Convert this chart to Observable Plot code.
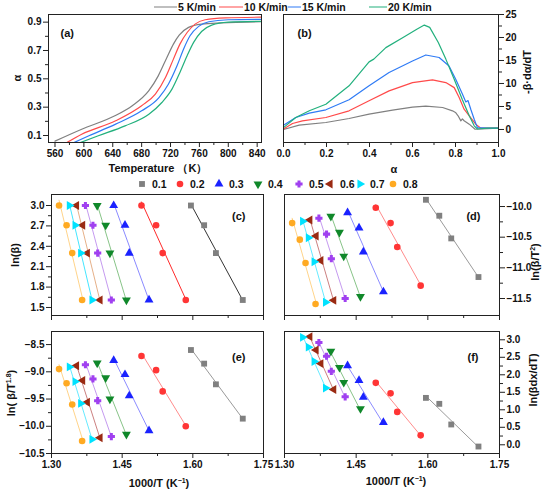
<!DOCTYPE html>
<html><head><meta charset="utf-8">
<script src="https://cdn.jsdelivr.net/npm/d3@7"></script>
<script src="https://cdn.jsdelivr.net/npm/@observablehq/plot@0.6"></script>
<style>
body{margin:0;background:#fff;}
#chart{position:relative;width:550px;height:492px;overflow:hidden;background:#fff;font-family:"Liberation Sans",Arial,Helvetica,sans-serif;font-weight:bold;color:#111;}
.lbl{position:absolute;white-space:nowrap;transform:translate(-50%,-50%);font-size:11px;line-height:1;}
.rot{transform:translate(-50%,-50%) rotate(-90deg);}
.lbl sup{font-size:7px;vertical-align:4px;line-height:0;}
.leg{position:absolute;white-space:nowrap;font-size:10.5px;line-height:1;transform:translateY(-50%);}
.legline{position:absolute;height:0;border-top:1.6px solid;transform:translateY(-50%);}
svg.pan{position:absolute;overflow:visible;max-width:none;}
</style></head><body><div id="chart"></div>
<script>
const FONT = "'Liberation Sans', Arial, Helvetica, sans-serif";

// ---------- panels (a) and (b): heating rates ----------
const rateLabels = ["5 K/min", "10 K/min", "15 K/min", "20 K/min"];
const rateColors = ["#808080", "#ff4a4a", "#2f7bf5", "#22b07d"];

// (a) conversion alpha vs temperature (K)
const tempA5  = [560, 597, 643, 667, 690, 703, 715, 724, 732, 745, 763, 791, 846];
const alphaA5 = [0.060, 0.144, 0.239, 0.310, 0.416, 0.521, 0.651, 0.745, 0.808, 0.863, 0.886, 0.895, 0.903];
const tempA10  = [577, 597, 644, 680, 699, 713, 724, 733, 743, 754, 768, 796, 846];
const alphaA10 = [0.052, 0.109, 0.204, 0.310, 0.392, 0.509, 0.639, 0.745, 0.827, 0.886, 0.917, 0.930, 0.935];
const tempA15  = [587, 607, 644, 680, 704, 717, 729, 738, 747, 759, 773, 800, 846];
const alphaA15 = [0.052, 0.098, 0.180, 0.274, 0.368, 0.462, 0.592, 0.709, 0.804, 0.870, 0.903, 0.917, 0.920];
const tempA20  = [595, 620, 657, 690, 708, 722, 733, 743, 752, 763, 777, 800, 846];
const alphaA20 = [0.050, 0.098, 0.168, 0.250, 0.333, 0.427, 0.545, 0.663, 0.757, 0.834, 0.879, 0.900, 0.906];

// (b) -beta*dalpha/dT vs alpha
const alphaB5 = [0, 0.073, 0.197, 0.305, 0.398, 0.507, 0.600, 0.662, 0.740, 0.786, 0.800, 0.812, 0.825, 0.832, 0.840, 0.864, 0.891, 0.950, 1.0];
const rateB5  = [0, 0.94, 1.52, 2.39, 3.33, 4.20, 4.86, 5.07, 4.78, 4.06, 3.70, 2.97, 1.88, 2.30, 1.90, 1.16, 0.05, 0.20, 0.30];
const alphaB10 = [0, 0.042, 0.088, 0.197, 0.305, 0.398, 0.491, 0.600, 0.693, 0.755, 0.794, 0.817, 0.840, 0.864, 0.894, 0.918, 0.950, 1.0];
const rateB10  = [0.1, 1.30, 1.88, 2.61, 4.06, 6.23, 8.40, 10.2, 10.8, 10.2, 9.1, 6.96, 4.42, 2.97, 1.16, 0.30, 0.30, 0.30];
const alphaB15 = [0, 0.057, 0.120, 0.197, 0.305, 0.398, 0.491, 0.600, 0.662, 0.724, 0.770, 0.801, 0.832, 0.848, 0.858, 0.871, 0.887, 0.902, 0.950, 1.0];
const rateB15  = [0.9, 2.61, 3.55, 4.28, 6.45, 9.5, 12.4, 14.9, 16.2, 15.65, 13.8, 10.9, 7.7, 6.0, 6.3, 4.4, 2.24, 0.40, 0.30, 0.30];
const alphaB20 = [0, 0.057, 0.120, 0.197, 0.305, 0.398, 0.420, 0.476, 0.556, 0.620, 0.655, 0.680, 0.720, 0.755, 0.794, 0.832, 0.864, 0.887, 0.902, 0.950, 1.0];
const rateB20  = [0.4, 2.61, 4.06, 5.5, 9.5, 14.7, 15.3, 17.8, 20.0, 21.8, 22.7, 22.2, 18.9, 15.3, 10.9, 6.45, 2.97, 0.80, 0.10, 0.30, 0.30];

// ---------- panels (c)-(f): isoconversional plots ----------
const alphaLabels = ["0.1", "0.2", "0.3", "0.4", "0.5", "0.6", "0.7", "0.8"];
const dotColors = ["#808080", "#ff3535", "#1a22ff", "#10882a", "#a040f0", "#9a2a12", "#00e2ff", "#ffaa22"];
const lineColorsC = ["#333333", "#ff2a2a", "#8a8aff", "#88c488", "#c59af0", "#e6b088", "#44e6ff", "#ffd48a"];
const lineColorsDEF = ["#9a9a9a", "#ff8c8c", "#8c8cff", "#88c488", "#c59af0", "#cc8080", "#66eaff", "#ffd48a"];
const betaRates = [5, 10, 15, 20];
// 1000/T (K^-1) per alpha, for beta = 5, 10, 15, 20
const invT = [
  [1.706, 1.649, 1.624, 1.596],
  [1.585, 1.536, 1.522, 1.491],
  [1.507, 1.465, 1.456, 1.432],
  [1.459, 1.424, 1.415, 1.397],
  [1.427, 1.398, 1.388, 1.372],
  [1.403, 1.376, 1.366, 1.353],
  [1.386, 1.362, 1.350, 1.338],
  [1.365, 1.344, 1.332, 1.316]
];
const lnBeta = [1.61, 2.30, 2.71, 3.00];
const lnBetaT2 = [
  [-11.15, -10.52, -10.15, -9.89],
  [-11.29, -10.66, -10.27, -10.02],
  [-11.39, -10.74, -10.35, -10.10],
  [-11.47, -10.81, -10.42, -10.16],
  [-11.50, -10.85, -10.45, -10.19],
  [-11.53, -10.88, -10.48, -10.22],
  [-11.56, -10.90, -10.51, -10.24],
  [-11.59, -10.92, -10.54, -10.27]
];
const lnBetaT18 = [
  [-9.86, -9.23, -8.85, -8.60],
  [-10.00, -9.36, -8.97, -8.71],
  [-10.08, -9.44, -9.05, -8.79],
  [-10.15, -9.50, -9.11, -8.84],
  [-10.19, -9.53, -9.13, -8.87],
  [-10.21, -9.56, -9.16, -8.89],
  [-10.24, -9.58, -9.18, -8.91],
  [-10.27, -9.60, -9.21, -8.95]
];
const lnBetaDadT = [
  [-0.05, 0.58, 1.17, 1.34],
  [0.27, 0.94, 1.47, 1.77],
  [0.64, 1.36, 1.84, 2.26],
  [1.03, 1.78, 2.21, 2.67],
  [1.37, 2.10, 2.53, 2.92],
  [1.58, 2.32, 2.71, 3.09],
  [1.62, 2.38, 2.79, 3.07]
];

// ---------- tick values ----------
const ticksAx = [560, 600, 640, 680, 720, 760, 800, 840];
const minorAx = [580, 620, 660, 700, 740, 780, 820];
const ticksAy = [0.1, 0.3, 0.5, 0.7, 0.9];
const minorAy = [0.2, 0.4, 0.6, 0.8];
const ticksBx = [0, 0.2, 0.4, 0.6, 0.8, 1.0];
const minorBx = [0.1, 0.3, 0.5, 0.7, 0.9];
const ticksBy = [0, 5, 10, 15, 20, 25];
const minorBy = [2.5, 7.5, 12.5, 17.5, 22.5];
const ticksInvT = [1.30, 1.45, 1.60, 1.75];
const minorInvT = [1.375, 1.525, 1.675];
const ticksCy = [1.5, 1.8, 2.1, 2.4, 2.7, 3.0];
const minorCy = [1.65, 1.95, 2.25, 2.55, 2.85];
const ticksDy = [-10.0, -10.5, -11.0, -11.5];
const minorDy = [-10.25, -10.75, -11.25];
const ticksEy = [-8.5, -9.0, -9.5, -10.0, -10.5];
const minorEy = [-8.75, -9.25, -9.75, -10.25];
const ticksFy = [0, 0.5, 1.0, 1.5, 2.0, 2.5, 3.0];
const minorFy = [0.25, 0.75, 1.25, 1.75, 2.25, 2.75];

// ---------- symbols ----------
function triSym(deg) {
  return {draw(ctx, size) {
    const R = Math.sqrt(size / 1.299);
    for (let j = 0; j < 3; j++) {
      const a = (deg + j * 120) * Math.PI / 180;
      const px = R * Math.cos(a), py = R * Math.sin(a);
      if (j) ctx.lineTo(px, py); else ctx.moveTo(px, py);
    }
    ctx.closePath();
  }};
}
const fatPlus = {draw(ctx, size) {
  const L = Math.sqrt(size / 2.654), w = 0.42 * L;
  ctx.moveTo(-w, -L); ctx.lineTo(w, -L); ctx.lineTo(w, -w); ctx.lineTo(L, -w); ctx.lineTo(L, w);
  ctx.lineTo(w, w); ctx.lineTo(w, L); ctx.lineTo(-w, L); ctx.lineTo(-w, w); ctx.lineTo(-L, w);
  ctx.lineTo(-L, -w); ctx.lineTo(-w, -w); ctx.closePath();
}};
const alphaSymbols = [d3.symbolSquare, d3.symbolCircle, triSym(-90), triSym(90), fatPlus, triSym(180), triSym(0), d3.symbolCircle];

// ---------- helpers ----------
const chart = document.getElementById("chart");
const tickText = {fontSize: 10, fontWeight: "bold", fontFamily: FONT, fill: "#111"};

function xAxis(ticks, minor, fmt) {
  return [
    Plot.axisX({ticks, anchor: "bottom", tickSize: 5, tickPadding: 2, label: null, stroke: "#222",
      ...(fmt ? {...tickText, tickFormat: fmt} : {fill: "none"})}),
    Plot.axisX({ticks: minor, anchor: "bottom", tickSize: 3, label: null, stroke: "#222", fill: "none"})
  ];
}
function yAxis(ticks, minor, fmt, anchor) {
  return [
    Plot.axisY({ticks, anchor, tickSize: 5, tickPadding: 2, label: null, stroke: "#222", ...tickText, tickFormat: fmt}),
    Plot.axisY({ticks: minor, anchor, tickSize: 3, label: null, stroke: "#222", fill: "none"})
  ];
}
function panel({left, top, width, height, mL, mR, mT, mB, xDom, yDom, marks}) {
  const svg = Plot.plot({
    width, height, marginLeft: mL, marginRight: mR, marginTop: mT, marginBottom: mB,
    x: {domain: xDom, label: null}, y: {domain: yDom, label: null},
    style: {background: "transparent", overflow: "visible", fontFamily: FONT},
    marks
  });
  svg.classList.add("pan");
  svg.style.left = left + "px";
  svg.style.top = top + "px";
  chart.appendChild(svg);
}
function tagText(txt, anchor, dx, dy) {
  return Plot.text([txt], {text: d => d, frameAnchor: anchor, dx, dy, textAnchor: anchor === "top-left" ? "start" : "end",
    fontSize: 11, fontWeight: "bold", fontFamily: FONT, fill: "#111"});
}
function label(html, x, y, rotate) {
  const el = document.createElement("div");
  el.className = "lbl" + (rotate ? " rot" : "");
  el.innerHTML = html;
  el.style.left = x + "px";
  el.style.top = y + "px";
  chart.appendChild(el);
}
function zipSeries(xs, ys) { return xs.map((x, i) => ({x, y: ys[i]})); }

// ---------- panel (a) ----------
const seriesA = [[tempA5, alphaA5], [tempA10, alphaA10], [tempA15, alphaA15], [tempA20, alphaA20]];
panel({left: 0, top: 0, width: 275, height: 160, mL: 48, mR: 14, mT: 14, mB: 18,
  xDom: [551, 846], yDom: [0.0506, 0.954],
  marks: [
    ...seriesA.map(([xs, ys], k) => Plot.line(zipSeries(xs, ys), {x: "x", y: "y", stroke: rateColors[k], strokeWidth: 1.2, curve: "monotone-x", clip: true})),
    Plot.frame({stroke: "#222"}),
    ...xAxis(ticksAx, minorAx, d3.format("d")),
    ...yAxis(ticksAy, minorAy, d3.format(".1f"), "left"),
    tagText("(a)", "top-left", 12, 15)
  ]});

// ---------- panel (b) ----------
const seriesB = [[alphaB5, rateB5], [alphaB10, rateB10], [alphaB15, rateB15], [alphaB20, rateB20]];
panel({left: 275, top: 0, width: 275, height: 160, mL: 8, mR: 52, mT: 14, mB: 18,
  xDom: [0, 1], yDom: [-2.83, 25],
  marks: [
    ...seriesB.map(([xs, ys], k) => Plot.line(zipSeries(xs, ys), {x: "x", y: "y", stroke: rateColors[k], strokeWidth: 1.2, clip: true})),
    Plot.frame({stroke: "#222"}),
    ...xAxis(ticksBx, minorBx, d3.format(".1f")),
    ...yAxis(ticksBy, minorBy, d3.format("d"), "right"),
    tagText("(b)", "top-left", 14, 15)
  ]});

// ---------- panels (c)-(f) ----------
function isoMarks(yVals, lineColors, n) {
  const sets = d3.range(n).map(k => betaRates.map((b, i) => ({
    beta: b, x: invT[k][i], y: Array.isArray(yVals[0]) ? yVals[k][i] : yVals[i]
  })));
  return [
    ...sets.map((d, k) => Plot.linearRegressionY(d, {x: "x", y: "y", stroke: lineColors[k], strokeWidth: 1, ci: 0})),
    ...sets.map((d, k) => Plot.dot(d, {x: "x", y: "y", r: 3.3, symbol: alphaSymbols[k], fill: dotColors[k], stroke: "none"}))
  ];
}
panel({left: 0, top: 180, width: 275, height: 145, mL: 51, mR: 12, mT: 14, mB: 10,
  xDom: [1.30, 1.75], yDom: [1.382, 3.162],
  marks: [
    ...isoMarks(lnBeta, lineColorsC, 8),
    Plot.frame({stroke: "#222"}),
    ...xAxis(ticksInvT, minorInvT, null),
    ...yAxis(ticksCy, minorCy, d3.format(".1f"), "left"),
    tagText("(c)", "top-right", -18, 18)
  ]});
panel({left: 275, top: 180, width: 275, height: 145, mL: 9, mR: 51, mT: 14, mB: 10,
  xDom: [1.30, 1.75], yDom: [-11.777, -9.804],
  marks: [
    ...isoMarks(lnBetaT2, lineColorsDEF, 8),
    Plot.frame({stroke: "#222"}),
    ...xAxis(ticksInvT, minorInvT, null),
    ...yAxis(ticksDy, minorDy, d3.format(".1f"), "right"),
    tagText("(d)", "top-right", -19, 18)
  ]});
panel({left: 0, top: 325, width: 275, height: 145, mL: 51, mR: 12, mT: 6, mB: 17,
  xDom: [1.30, 1.75], yDom: [-10.5, -8.26],
  marks: [
    ...isoMarks(lnBetaT18, lineColorsDEF, 8),
    Plot.frame({stroke: "#222"}),
    ...xAxis(ticksInvT, minorInvT, d3.format(".2f")),
    ...yAxis(ticksEy, minorEy, d3.format(".1f"), "left"),
    tagText("(e)", "top-right", -18, 22)
  ]});
panel({left: 275, top: 325, width: 275, height: 145, mL: 9, mR: 51, mT: 6, mB: 17,
  xDom: [1.30, 1.75], yDom: [-0.249, 3.237],
  marks: [
    ...isoMarks(lnBetaDadT, lineColorsDEF, 7),
    Plot.frame({stroke: "#222"}),
    ...xAxis(ticksInvT, minorInvT, d3.format(".2f")),
    ...yAxis(ticksFy, minorFy, d3.format(".1f"), "right"),
    tagText("(f)", "top-right", -21, 22)
  ]});

// ---------- axis titles ----------
label("α", 17, 78, true);
label("Temperature （K）", 158, 168, false);
label("α", 394, 169, false);
label("-β·dα/dT", 527, 72, true);
label("ln(β)", 15, 255, true);
label("ln(β/T<sup>2</sup>)", 535, 262, true);
label("ln( β/T<sup>1.8</sup>)", 11, 393, true);
label("ln(βdx/dT)", 533, 380, true);
label("1000/T (K<sup>−1</sup>)", 159, 483, false);
label("1000/T (K<sup>−1</sup>)", 396, 481, false);

// ---------- legends ----------
const legLineX = [[154, 177], [219, 243], [288, 301], [369, 387]];
rateLabels.forEach((t, k) => {
  const ln = document.createElement("div");
  ln.className = "legline";
  ln.style.left = legLineX[k][0] + "px";
  ln.style.width = (legLineX[k][1] - legLineX[k][0]) + "px";
  ln.style.top = "7px";
  ln.style.borderColor = rateColors[k];
  chart.appendChild(ln);
  const tx = document.createElement("div");
  tx.className = "leg";
  tx.textContent = t;
  tx.style.left = (legLineX[k][1] + 1) + "px";
  tx.style.top = "7px";
  chart.appendChild(tx);
});
const legSymX = [142, 180, 219, 258, 299, 330, 360, 393];
const legSvg = d3.create("svg").attr("width", 550).attr("height", 20)
  .style("position", "absolute").style("left", "0px").style("top", "174px");
alphaLabels.forEach((t, k) => {
  legSvg.append("path")
    .attr("transform", `translate(${legSymX[k]},10)`)
    .attr("d", d3.symbol().type(alphaSymbols[k]).size(3.3 * 3.3 * Math.PI)())
    .attr("fill", dotColors[k]);
  legSvg.append("text")
    .attr("x", legSymX[k] + 10).attr("y", 10).attr("dy", "0.35em")
    .attr("font-family", FONT).attr("font-size", 10.5).attr("font-weight", "bold").attr("fill", "#111")
    .text(t);
});
chart.appendChild(legSvg.node());
</script>
</body></html>
